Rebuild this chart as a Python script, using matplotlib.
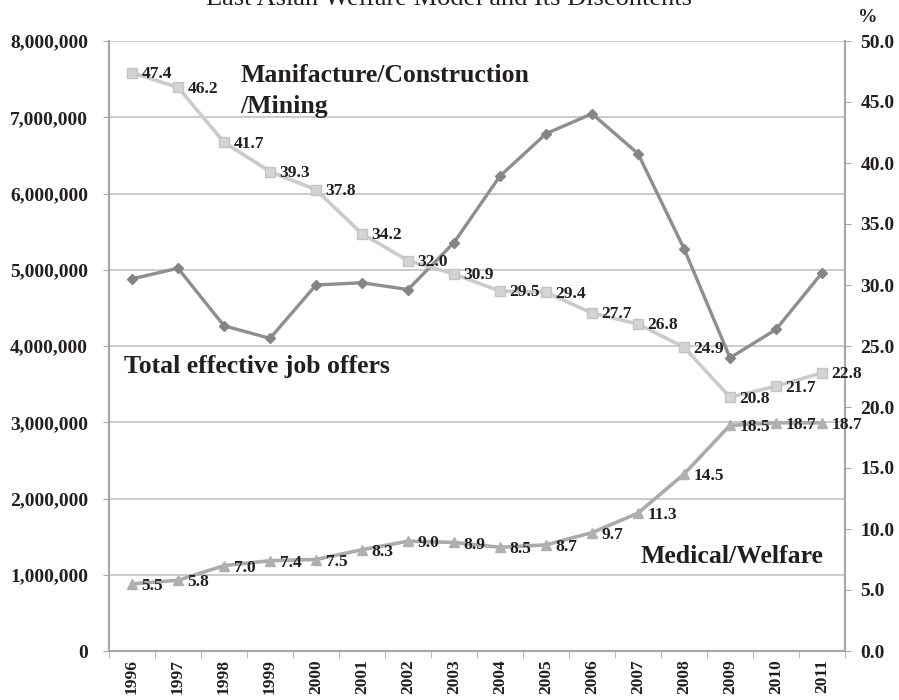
import matplotlib
matplotlib.use("Agg")
import matplotlib.pyplot as plt
from matplotlib.ticker import FuncFormatter, MultipleLocator

years = [1996, 1997, 1998, 1999, 2000, 2001, 2002, 2003,
         2004, 2005, 2006, 2007, 2008, 2009, 2010, 2011]
total_offers = [4880000, 5020000, 4265000, 4100000, 4800000, 4830000, 4740000, 5357000,
                6229000, 6784000, 7046000, 6523000, 5278000, 3845000, 4217000, 4959000]
manufacture_pct = [47.4, 46.2, 41.7, 39.3, 37.8, 34.2, 32.0, 30.9,
                   29.5, 29.4, 27.7, 26.8, 24.9, 20.8, 21.7, 22.8]
medical_pct = [5.5, 5.8, 7.0, 7.4, 7.5, 8.3, 9.0, 8.9,
               8.5, 8.7, 9.7, 11.3, 14.5, 18.5, 18.7, 18.7]

title = "East Asian Welfare Model and Its Discontents"
label_manu = "Manifacture/Construction\n/Mining"
label_total = "Total effective job offers"
label_med = "Medical/Welfare"

SERIF = ["Liberation Serif", "DejaVu Serif"]
TXT = "#231f20"
plt.rcParams["font.family"] = SERIF

fig = plt.figure(figsize=(8.99, 7.0), dpi=100)
ax1 = fig.add_axes([109 / 899, 1 - 651 / 700, (845 - 109) / 899, (651 - 41) / 700])
ax2 = ax1.twinx()

x = list(range(len(years)))

ax1.plot(x, total_offers, color="#8e8e8e", lw=2.4, marker="D", ms=5.5,
         mfc="#858585", mec="#858585", zorder=3)
ax2.plot(x, manufacture_pct, color="#cbcbcb", lw=2.6, marker="s", ms=7,
         mfc="#d4d4d4", mec="#c4c4c4", zorder=3)
ax2.plot(x, medical_pct, color="#ababab", lw=2.6, marker="^", ms=7,
         mfc="#b0b0b0", mec="#b0b0b0", zorder=3)

for xi, v in zip(x, manufacture_pct):
    ax2.annotate(f"{v:.1f}", (xi, v), xytext=(7, -1), textcoords="offset points",
                 ha="left", va="center", fontsize=12.5, fontweight="bold", color=TXT)
for xi, v in zip(x, medical_pct):
    ax2.annotate(f"{v:.1f}", (xi, v), xytext=(7, -1.5), textcoords="offset points",
                 ha="left", va="center", fontsize=12.5, fontweight="bold", color=TXT)

ax1.set_xlim(-0.5, len(years) - 0.5)
ax1.set_ylim(0, 8000000)
ax2.set_ylim(0, 50)

ax1.yaxis.set_major_locator(MultipleLocator(1000000))
ax1.yaxis.set_major_formatter(FuncFormatter(lambda v, p: f"{int(v):,}"))
ax2.yaxis.set_major_locator(MultipleLocator(5))
ax2.yaxis.set_major_formatter(FuncFormatter(lambda v, p: f"{v:.1f}"))

ax1.set_xticks(x)
ax1.set_xticklabels([str(y) for y in years], rotation=90, fontsize=12.5,
                    fontweight="bold", color=TXT)
ax1.set_xticks([i - 0.5 for i in range(len(years) + 1)], minor=True)
ax1.tick_params(axis="x", which="major", length=0, pad=6)
ax1.tick_params(axis="x", which="minor", length=5, color="#a8a8a8", direction="out")

ax1.tick_params(axis="y", length=4, color="#a8a8a8", direction="out", pad=11)
ax2.tick_params(axis="y", length=4, color="#a8a8a8", direction="out", pad=7)
for t in ax1.get_yticklabels():
    t.set_fontweight("bold"); t.set_fontsize(14); t.set_color(TXT)
for t in ax2.get_yticklabels():
    t.set_fontweight("bold"); t.set_fontsize(14); t.set_color(TXT)

ax1.grid(axis="y", color="#c2c2c2", lw=1.2)
ax1.set_axisbelow(True)
for ax in (ax1, ax2):
    ax.spines["top"].set_visible(False)
    for s in ("left", "right", "bottom"):
        ax.spines[s].set_color("#a8a8a8")
        ax.spines[s].set_linewidth(1.5)

ax2.text(2.35, 45.9, label_manu, fontsize=18.5, fontweight="bold",
         color=TXT, ha="left", va="center", linespacing=1.45)
ax1.text(-0.17, 3730000, label_total, fontsize=18.5, fontweight="bold",
         color=TXT, ha="left", va="center")
ax1.text(15.02, 1240000, label_med, fontsize=18.5, fontweight="bold",
         color=TXT, ha="right", va="center")

fig.text(0.5, 1 - 5 / 700, title, fontsize=19, color=TXT, ha="center", va="baseline")
fig.text(868 / 899, 1 - 17 / 700, "%", fontsize=14, fontweight="bold", color=TXT,
         ha="center", va="center")

fig.savefig("out.png", dpi=100)
